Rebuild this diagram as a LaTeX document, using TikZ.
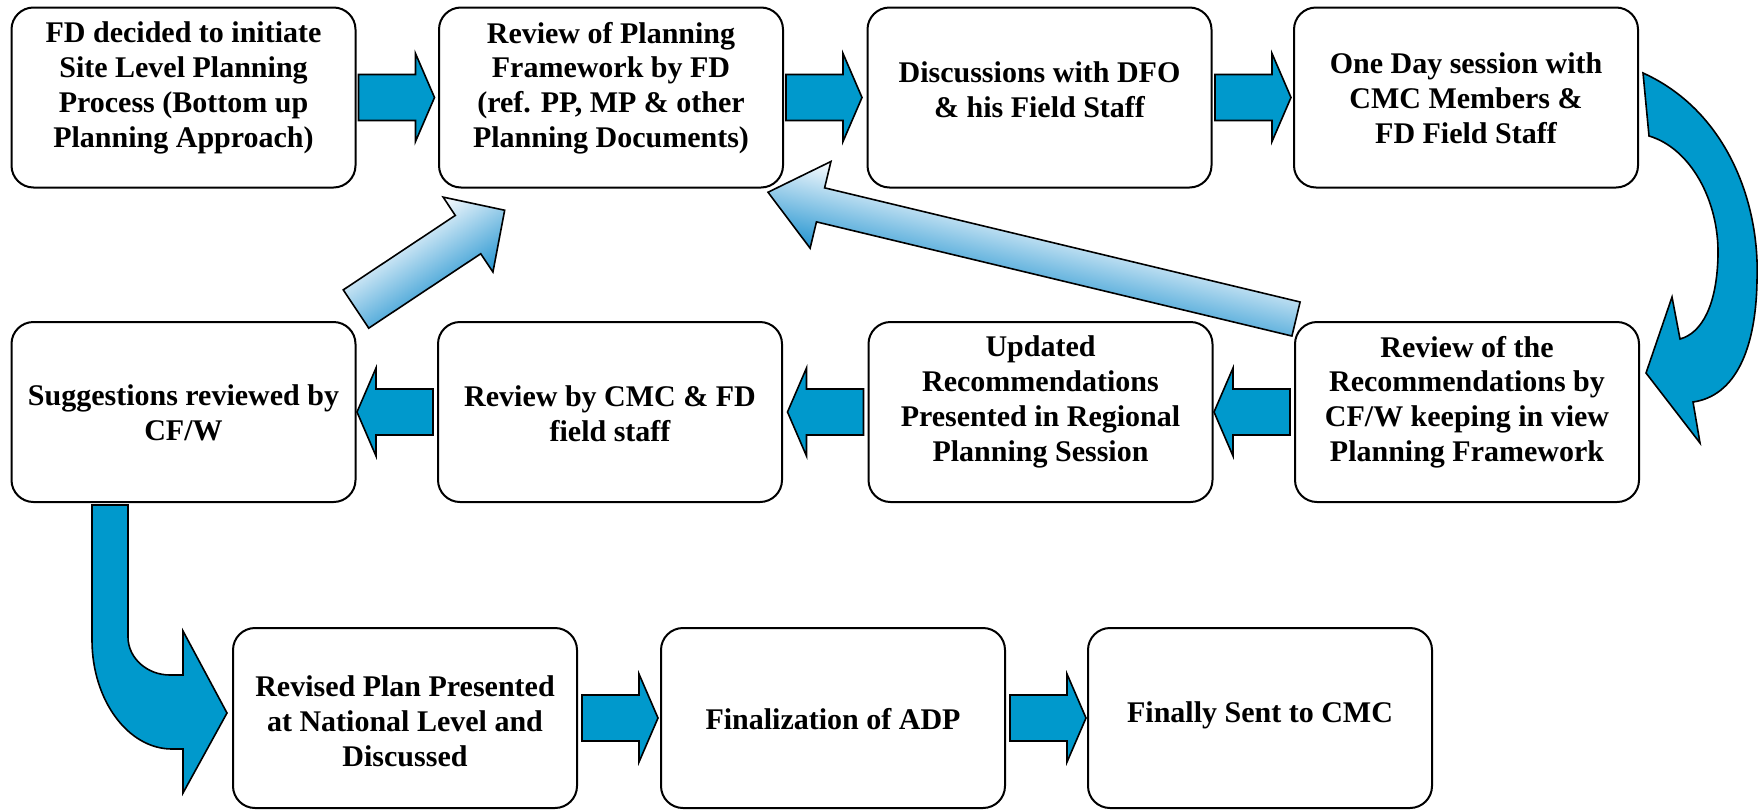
\documentclass[tikz,border=0pt]{standalone}
\usepackage{fontspec}
\setmainfont{Liberation Serif}
\usetikzlibrary{calc}
\definecolor{arrowblue}{RGB}{0,153,204}
\definecolor{gradblue}{RGB}{35,148,208}
\definecolor{gradwhite}{RGB}{252,253,255}
\begin{document}
\begin{tikzpicture}[x=1pt,y=-1pt,
  box/.style={draw, line width=2pt, rounded corners=22pt, minimum width=344pt, minimum height=180pt, inner sep=0pt, fill=white},
  txt/.style={align=center, font=\fontsize{30}{34.8}\selectfont\bfseries, inner sep=0pt},
  solidarrow/.style={draw, line width=1.6pt, fill=arrowblue, line join=miter},
  gradarrow/.style={draw, line width=1.6pt, line join=miter},
  rarrow/.pic={\path[solidarrow] (0,-23) -- (57,-23) -- (57,-44) -- (76,0) -- (57,44) -- (57,23) -- (0,23) -- cycle;},
  larrow/.pic={\path[solidarrow] (0,-23) -- (-57,-23) -- (-57,-44) -- (-76,0) -- (-57,44) -- (-57,23) -- (0,23) -- cycle;}
]
\fill[white] (0,0) rectangle (1760,809);
\useasboundingbox (0,0) rectangle (1760,809);

% boxes
\node[box] (b1) at (183.5,97.5) {};
\node[box] (b2) at (611,97.5) {};
\node[box] (b3) at (1039.5,97.5) {};
\node[box] (b4) at (1466,97.5) {};
\node[box] (b5) at (183.5,412) {};
\node[box] (b6) at (610,412) {};
\node[box] (b7) at (1040.5,412) {};
\node[box] (b8) at (1467,412) {};
\node[box] (b9) at (405,718) {};
\node[box] (b10) at (833,718) {};
\node[box] (b11) at (1260,718) {};

% texts
\node[txt] (t1) at (183.5,88) {FD decided to initiate\\Site Level Planning\\Process (Bottom up\\Planning Approach)};
\node[txt] (t2) at (611,88) {Review of Planning\\Framework by FD\\(ref. PP, MP \& other\\Planning Documents)};
\node[txt] (t3) at (1039.5,90) {Discussions with DFO\\\& his Field Staff};
\node[txt] (t4) at (1466,98) {One Day session with\\CMC Members \&\\FD Field Staff};
\node[txt] (t5) at (183.5,413) {Suggestions reviewed by\\CF/W};
\node[txt] (t6) at (610,414) {Review by CMC \& FD\\field staff};
\node[txt] (t7) at (1040.5,402) {Updated\\Recommendations\\Presented in Regional\\Planning Session};
\node[txt] (t8) at (1467,402) {Review of the\\Recommendations by\\CF/W keeping in view\\Planning Framework};
\node[txt] (t9) at (405,721) {Revised Plan Presented\\at National Level and\\Discussed};
\node[txt] (t10) at (833,719) {Finalization of ADP};
\node[txt] (t11) at (1260,715) {Finally Sent to CMC};

% straight block arrows
\pic at ($(b1.east)+(2,0)$) {rarrow};
\pic at ($(b2.east)+(2,0)$) {rarrow};
\pic at ($(b3.east)+(2.5,0)$) {rarrow};
\pic at ($(b8.west)+(-4,0)$) {larrow};
\pic at ($(b7.west)+(-4,0)$) {larrow};
\pic at ($(b6.west)+(-4,0)$) {larrow};
\pic at ($(b9.east)+(4,0)$) {rarrow};
\pic at ($(b10.east)+(4,0)$) {rarrow};

% curved arrow b4 -> b8
\path[solidarrow] (1643,73) .. controls (1725,110) and (1760,200) .. (1757,280)
  .. controls (1756,350) and (1735,396) .. (1693,402) -- (1700,443) -- (1646,373)
  -- (1672,297) -- (1680,339) .. controls (1702,333) and (1717,305) .. (1718,255)
  .. controls (1719,200) and (1690,148) .. (1649,136) -- cycle;

% bent arrow b5 -> b9
\path[solidarrow] (92,505) -- (128,505) -- (128,637) .. controls (128,658) and (147,675) .. (170,675)
  -- (183,675) -- (183,631) -- (227,713) -- (183,793) -- (183,749) -- (172,749)
  .. controls (128,749) and (92,700) .. (92,640) -- cycle;

% gradient arrow b5 -> b2
\begin{scope}[transform canvas={shift={(356,309)}, rotate=33.6}]
\shade[gradarrow, draw, top color=gradwhite, bottom color=gradblue]
  (0,-23) -- (134.5,-23) -- (134.5,-45) -- (178.5,0) -- (134.5,45) -- (134.5,23) -- (0,23) -- cycle;
\end{scope}

% gradient arrow b8 -> b2
\begin{scope}[transform canvas={shift={(1296,319)}, rotate=166.5}]
\shade[gradarrow, draw, top color=gradblue, bottom color=gradwhite]
  (0,-17.5) -- (489,-17.5) -- (489,-44.6) -- (543,0) -- (489,44.6) -- (489,17.5) -- (0,17.5) -- cycle;
\end{scope}
\end{tikzpicture}
\end{document}
